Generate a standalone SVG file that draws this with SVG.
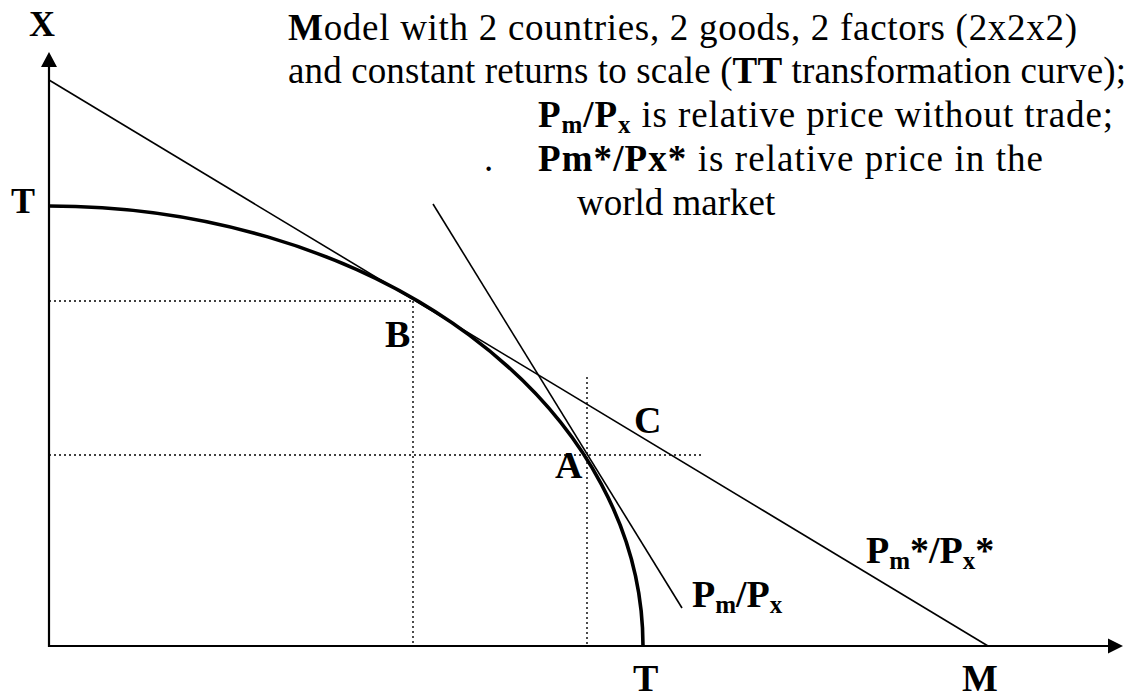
<svg xmlns="http://www.w3.org/2000/svg" width="1132" height="698" viewBox="0 0 1132 698">
<style>
text{font-family:"Liberation Serif","Times New Roman",serif;fill:#000;font-size:38px}
.cap{font-size:37px}
.b{font-weight:bold}
.lbl{font-weight:bold;font-size:38px}
.ln{stroke:#000;stroke-width:1.6;fill:none}
.ax{stroke:#000;stroke-width:2.2;fill:none}
.dot{stroke:#000;stroke-width:1.4;stroke-dasharray:2 3;fill:none}
.crv{stroke:#000;stroke-width:3.6;fill:none}
</style>
<rect width="1132" height="698" fill="#fff"/>
<g id="axes">
<line class="ax" x1="49" y1="647" x2="49" y2="66"/>
<polygon points="41,67 49,52 57,67" fill="#000"/>
<line class="ax" x1="48" y1="646" x2="1109" y2="646"/>
<polygon points="1108,638.5 1123,646 1108,653.5" fill="#000"/>
</g>
<g id="guides">
<line class="dot" x1="49" y1="301" x2="413" y2="301"/>
<line class="dot" x1="413" y1="301" x2="413" y2="646"/>
<line class="dot" x1="49" y1="455" x2="703" y2="455"/>
<line class="dot" x1="587" y1="377" x2="587" y2="646"/>
</g>
<g id="connectors">
<line class="ln" x1="49" y1="80" x2="988" y2="646"/>
<line class="ln" x1="433" y1="204" x2="682" y2="608"/>
</g>
<g id="curve-TT">
<path class="crv" d="M49,206 A594,440 0 0 1 643,646"/>
</g>
<g id="labels">
<text class="lbl" x="42" y="36" text-anchor="middle" style="font-size:36px">X</text>
<text class="lbl" x="11" y="213" style="font-size:36px">T</text>
<text class="lbl" x="385" y="347">B</text>
<text class="lbl" x="634" y="433">C</text>
<text class="lbl" x="555" y="478">A</text>
<text class="lbl" x="633" y="691">T</text>
<text class="lbl" x="962" y="691">M</text>
<text class="lbl" x="692" y="607">P<tspan font-size="25" dy="6">m</tspan><tspan dy="-6">/P</tspan><tspan font-size="25" dy="6">x</tspan></text>
<text class="lbl" x="866" y="563">P<tspan font-size="25" dy="6">m</tspan><tspan dy="-6">*/P</tspan><tspan font-size="25" dy="6">x</tspan><tspan dy="-6">*</tspan></text>
</g>
<g id="caption">
<text class="cap" x="288" y="40" textLength="789" lengthAdjust="spacing"><tspan class="b">M</tspan>odel with 2 countries, 2 goods, 2 factors (2x2x2)</text>
<text class="cap" x="288" y="83" textLength="838" lengthAdjust="spacing">and constant returns to scale (<tspan class="b">TT</tspan> transformation curve);</text>
<text class="cap" x="538" y="127" textLength="575" lengthAdjust="spacing"><tspan class="b">P</tspan><tspan class="b" font-size="25" dy="6">m</tspan><tspan class="b" dy="-6">/P</tspan><tspan class="b" font-size="25" dy="6">x</tspan><tspan dy="-6"> is relative price without trade;</tspan></text>
<text class="cap" x="484" y="171">.</text>
<text class="cap" x="538" y="171" textLength="505" lengthAdjust="spacing"><tspan class="b">Pm*/Px*</tspan> is relative price in the</text>
<text class="cap" x="577" y="215">world market</text>
</g>
</svg>
